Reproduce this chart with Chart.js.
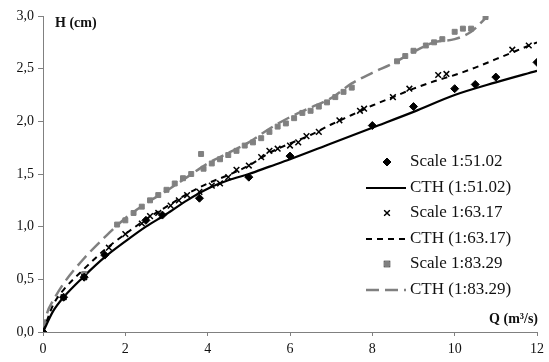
<!DOCTYPE html>
<html>
<head>
<meta charset="utf-8">
<script src="https://cdn.jsdelivr.net/npm/chart.js@4.4.1/dist/chart.umd.min.js"></script>
<style>
html,body{margin:0;padding:0;background:#fff;}
#wrap{width:549px;height:362px;position:relative;}
</style>
</head>
<body>
<div id="wrap"><canvas id="c" width="549" height="362"></canvas></div>
<script>
// ---- data ----
const xTicks = [0, 2, 4, 6, 8, 10, 12];
const yTicks = [0, 0.5, 1, 1.5, 2, 2.5, 3];

const qScale51 = [0, 0.5, 1.0, 1.5, 2.5, 2.9, 3.8, 5.0, 6.0, 8.0, 9.0, 10.0, 10.5, 11.0, 12.0];
const hScale51 = [0, 0.33, 0.52, 0.73, 1.06, 1.11, 1.27, 1.47, 1.67, 1.96, 2.14, 2.31, 2.35, 2.42, 2.56];

const qCth51 = [0, 0.25, 0.5, 1, 1.5, 2, 2.5, 3, 3.5, 4, 4.5, 5, 5.5, 6, 7, 8, 9, 10, 11, 12];
const hCth51 = [0, 0.2, 0.33, 0.53, 0.71, 0.86, 1.0, 1.12, 1.25, 1.36, 1.44, 1.50, 1.57, 1.64, 1.79, 1.94, 2.09, 2.25, 2.37, 2.48];

const qScale63 = [0.5, 1.0, 1.6, 2.0, 2.4, 2.6, 2.8, 3.1, 3.3, 3.5, 3.8, 4.1, 4.3, 4.5, 4.7, 5.0, 5.3, 5.5, 5.7, 6.0, 6.2, 6.4, 6.7, 7.2, 7.7, 7.8, 8.5, 8.9, 9.6, 9.8, 11.4, 11.8];
const hScale63 = [0.33, 0.52, 0.80, 0.93, 1.03, 1.10, 1.13, 1.20, 1.25, 1.30, 1.33, 1.39, 1.41, 1.47, 1.54, 1.58, 1.66, 1.72, 1.74, 1.77, 1.80, 1.86, 1.90, 2.01, 2.10, 2.12, 2.23, 2.31, 2.44, 2.45, 2.68, 2.72];

const qCth63 = [0, 0.25, 0.5, 1, 1.5, 2, 2.5, 3, 3.5, 4, 4.5, 5, 5.5, 6, 6.5, 7, 7.5, 8, 8.5, 9, 9.5, 10, 10.5, 11, 11.5, 12];
const hCth63 = [0, 0.26, 0.40, 0.60, 0.78, 0.93, 1.07, 1.19, 1.31, 1.41, 1.49, 1.58, 1.70, 1.79, 1.87, 1.97, 2.06, 2.15, 2.23, 2.31, 2.38, 2.44, 2.51, 2.59, 2.67, 2.75];

const qScale83 = [0, 0.5, 1.0, 1.8, 2.0, 2.2, 2.4, 2.6, 2.8, 3.0, 3.2, 3.4, 3.6, 3.84, 3.9, 4.1, 4.3, 4.5, 4.7, 4.9, 5.1, 5.3, 5.5, 5.7, 5.9, 6.1, 6.3, 6.5, 6.7, 6.9, 7.1, 7.3, 7.5, 8.6, 8.8, 9.0, 9.3, 9.5, 9.7, 10.0, 10.2, 10.4, 10.75];
const hScale83 = [0, 0.33, 0.55, 1.02, 1.06, 1.13, 1.19, 1.25, 1.30, 1.35, 1.41, 1.46, 1.50, 1.69, 1.55, 1.60, 1.64, 1.68, 1.72, 1.77, 1.80, 1.84, 1.90, 1.95, 1.98, 2.03, 2.08, 2.10, 2.14, 2.18, 2.23, 2.28, 2.32, 2.57, 2.62, 2.67, 2.72, 2.75, 2.78, 2.85, 2.88, 2.88, 2.99];

const qCth83 = [0, 0.1, 0.25, 0.5, 1, 1.5, 2, 2.5, 3, 3.5, 4, 4.5, 5, 5.5, 6, 6.5, 7, 7.5, 8, 8.5, 9, 9.5, 10, 10.4, 10.8];
const hCth83 = [0, 0.18, 0.30, 0.46, 0.70, 0.90, 1.08, 1.22, 1.34, 1.47, 1.60, 1.70, 1.80, 1.93, 2.04, 2.13, 2.22, 2.36, 2.46, 2.55, 2.66, 2.75, 2.78, 2.85, 3.0];

const seriesNames = ['Scale 1:51.02', 'CTH (1:51.02)', 'Scale 1:63.17', 'CTH (1:63.17)', 'Scale 1:83.29', 'CTH (1:83.29)'];

function pts(qs, hs) { return qs.map((q, i) => ({x: q, y: hs[i]})); }
const fmt = v => v.toFixed(1).replace('.', ',');
const SERIF = "'Liberation Serif', 'Times New Roman', serif";
const GRAY = '#808080';

const datasets = [
  {label: seriesNames[0], data: pts(qScale51, hScale51), showLine: false, pointStyle: 'rectRot', pointRadius: 4, backgroundColor: '#000', borderColor: '#000', borderWidth: 1, order: 1},
  {label: seriesNames[1], data: pts(qCth51, hCth51), showLine: true, pointRadius: 0, borderColor: '#000', borderWidth: 2.2, cubicInterpolationMode: 'monotone', order: 2},
  {label: seriesNames[2], data: pts(qScale63, hScale63), showLine: false, pointStyle: 'crossRot', pointRadius: 4, backgroundColor: '#000', borderColor: '#000', borderWidth: 1.5, order: 1},
  {label: seriesNames[3], data: pts(qCth63, hCth63), showLine: true, pointRadius: 0, borderColor: '#000', borderWidth: 2, borderDash: [6, 5], cubicInterpolationMode: 'monotone', order: 2},
  {label: seriesNames[4], data: pts(qScale83, hScale83), showLine: false, pointStyle: 'rect', pointRadius: 3.5, backgroundColor: GRAY, borderColor: GRAY, borderWidth: 1, order: 1},
  {label: seriesNames[5], data: pts(qCth83, hCth83), showLine: true, pointRadius: 0, borderColor: GRAY, borderWidth: 2.5, borderDash: [13, 6], cubicInterpolationMode: 'monotone', order: 2}
];

const overlay = {
  id: 'overlay',
  afterDraw(chart) {
    const ctx = chart.ctx;
    ctx.save();
    // axis titles
    ctx.fillStyle = '#111';
    ctx.font = 'bold 14px ' + SERIF;
    ctx.textBaseline = 'middle';
    ctx.textAlign = 'left';
    ctx.fillText('H (cm)', 55, 23);
    ctx.textAlign = 'right';
    ctx.fillText('Q (m\u00B3/s)', 538, 319);
    // legend
    const rows = [162, 188, 213, 239, 264, 290];
    ctx.font = '17px ' + SERIF;
    ctx.textAlign = 'left';
    datasets.forEach((ds, i) => {
      const y = rows[i];
      if (ds.showLine) {
        ctx.save();
        ctx.strokeStyle = ds.borderColor;
        ctx.lineWidth = ds.borderWidth;
        ctx.setLineDash(ds.borderDash || []);
        ctx.beginPath();
        ctx.moveTo(366, y);
        ctx.lineTo(406, y);
        ctx.stroke();
        ctx.restore();
      } else {
        Chart.helpers.drawPoint(ctx, {
          pointStyle: ds.pointStyle, radius: ds.pointRadius, borderWidth: ds.borderWidth, rotation: 0
        }, 387, y);
        ctx.fillStyle = ds.backgroundColor;
        ctx.strokeStyle = ds.borderColor;
        ctx.lineWidth = ds.borderWidth;
        ctx.beginPath();
        Chart.helpers.drawPoint(ctx, {pointStyle: ds.pointStyle, radius: ds.pointRadius, borderWidth: ds.borderWidth, rotation: 0}, 387, y);
      }
      ctx.fillStyle = '#111';
      ctx.fillText(ds.label, 410, y);
    });
    ctx.restore();
  }
};

new Chart(document.getElementById('c'), {
  type: 'scatter',
  data: {datasets},
  options: {
    responsive: false,
    animation: false,
    devicePixelRatio: 1,
    layout: {padding: {top: 16, right: 8, left: 0, bottom: 0}},
    plugins: {legend: {display: false}, tooltip: {enabled: false}},
    scales: {
      x: {
        type: 'linear', min: 0, max: 12,
        afterBuildTicks: s => { s.ticks = xTicks.map(v => ({value: v})); },
        afterFit: s => { s.height = 30; },
        border: {display: true, color: GRAY, width: 1},
        grid: {display: true, drawOnChartArea: false, drawTicks: true, tickLength: 4, color: GRAY},
        ticks: {color: '#111', font: {family: SERIF, size: 14}, padding: 5, maxRotation: 0, callback: v => String(v)}
      },
      y: {
        type: 'linear', min: 0, max: 3,
        afterBuildTicks: s => { s.ticks = yTicks.map(v => ({value: v})); },
        afterFit: s => { s.width = 43; },
        border: {display: true, color: GRAY, width: 1},
        grid: {display: true, drawOnChartArea: false, drawTicks: true, tickLength: 5, color: GRAY},
        ticks: {color: '#111', font: {family: SERIF, size: 14}, padding: 4, callback: v => fmt(v)}
      }
    }
  },
  plugins: [overlay]
});
</script>
</body>
</html>
